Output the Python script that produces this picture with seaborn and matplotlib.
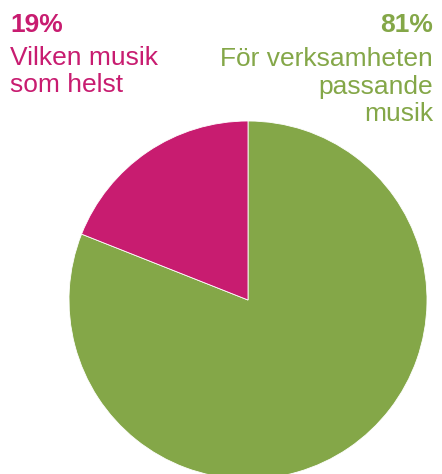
import matplotlib
matplotlib.use("Agg")
import matplotlib.pyplot as plt
import seaborn as sns

# Share of answers
labels = ["För verksamheten passande musik", "Vilken musik som helst"]
shares = [81, 19]
colors = ["#84A748", "#C81C70"]

label_lines_left = ["Vilken musik", "som helst"]
label_lines_right = ["För verksamheten", "passande", "musik"]

sns.set_theme(style="white")
plt.rcParams["font.family"] = ["Liberation Sans", "DejaVu Sans"]

W, H = 442, 474
fig = plt.figure(figsize=(W / 100, H / 100), dpi=100)
ax = fig.add_axes([0, 0, 1, 1])

# Axes in pixel-like units with the pie centred at (248, 300) from top-left
cx, cy, r = 248, 300, 179
ax.pie(shares, colors=colors, startangle=90, counterclock=False,
       radius=r, center=(0, 0),
       wedgeprops=dict(edgecolor="white", linewidth=0.6))
ax.set_xlim(-cx, W - cx)
ax.set_ylim(-(H - cy), cy)
ax.set_aspect("equal")
ax.axis("off")


def ypix(y):
    return cy - y


fs = 19
# Left label (smaller share)
ax.text(10 - cx, ypix(32), f"{shares[1]}%", color=colors[1], fontsize=fs,
        fontweight="bold", ha="left", va="baseline")
for i, line in enumerate(label_lines_left):
    ax.text(10 - cx, ypix(65 + 27 * i), line, color=colors[1], fontsize=fs,
            ha="left", va="baseline")

# Right label (larger share)
ax.text(433 - cx, ypix(32), f"{shares[0]}%", color=colors[0], fontsize=fs,
        fontweight="bold", ha="right", va="baseline")
for i, line in enumerate(label_lines_right):
    ax.text(433 - cx, ypix(66 + 27.5 * i), line, color=colors[0], fontsize=fs,
            ha="right", va="baseline")

fig.savefig("out.png", dpi=100, facecolor="white")
